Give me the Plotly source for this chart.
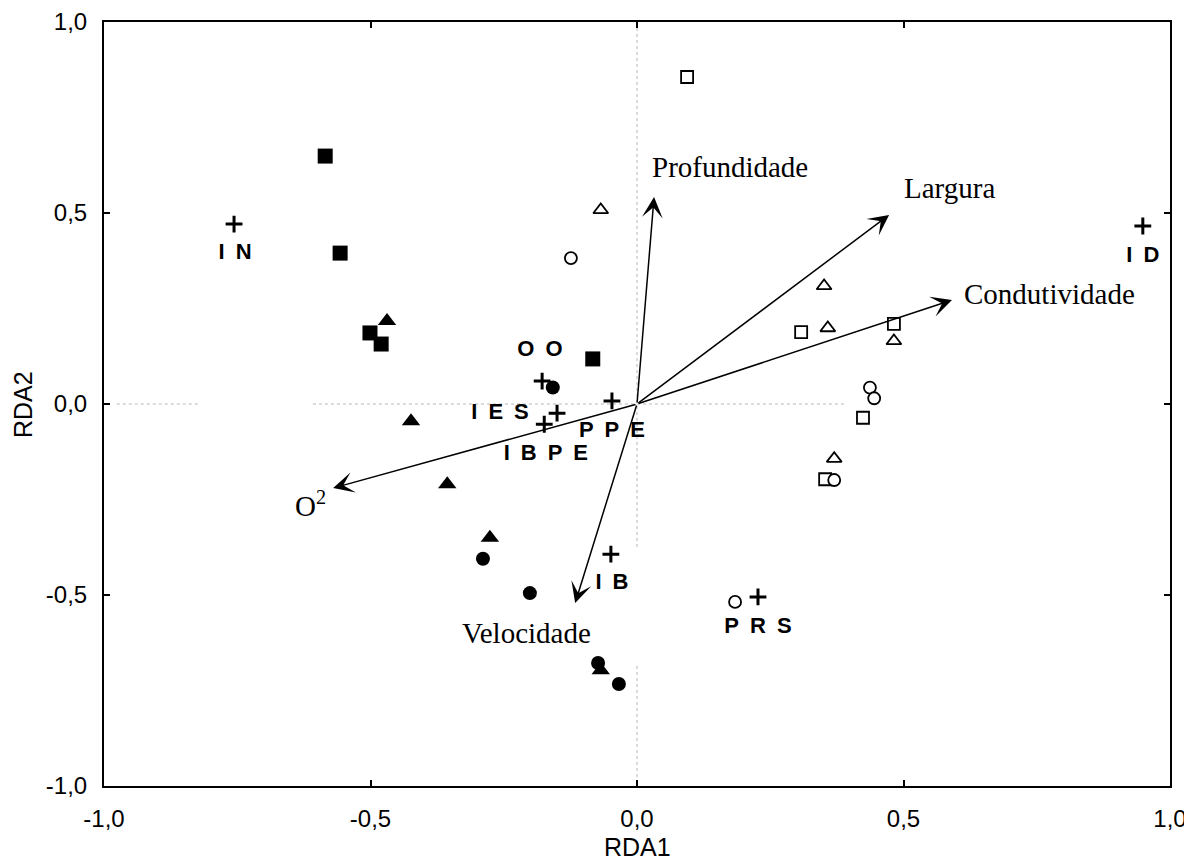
import plotly.graph_objects as go

# ---- Site scores (RDA1, RDA2) by group ----
fsq_x = [-0.585, -0.557, -0.501, -0.480, -0.083]
fsq_y = [0.649, 0.395, 0.186, 0.157, 0.118]
ftri_x = [-0.469, -0.424, -0.356, -0.276, -0.068]
ftri_y = [0.217, -0.045, -0.210, -0.350, -0.697]
fcir_x = [-0.158, -0.289, -0.201, -0.073, -0.034]
fcir_y = [0.043, -0.405, -0.495, -0.678, -0.733]
osq_x = [0.094, 0.308, 0.482, 0.424, 0.353]
osq_y = [0.856, 0.188, 0.210, -0.036, -0.197]
otri_x = [-0.068, 0.351, 0.358, 0.482, 0.370]
otri_y = [0.508, 0.309, 0.199, 0.165, -0.143]
ocir_x = [-0.124, 0.437, 0.445, 0.370, 0.184]
ocir_y = [0.382, 0.043, 0.015, -0.199, -0.518]

# ---- Species scores ----
sp_x = [-0.756, 0.949, -0.178, -0.047, -0.150, -0.174, -0.049, 0.227]
sp_y = [0.471, 0.466, 0.060, 0.008, -0.024, -0.053, -0.393, -0.505]
sp_labels = ["I N", "I D", "O O", "I E S", "P P E", "I B P E", "I B", "P R S"]
sp_label_x = [-0.754, 0.949, -0.182, -0.257, -0.047, -0.171, -0.047, 0.227]
sp_label_y = [0.393, 0.387, 0.139, -0.026, -0.071, -0.131, -0.471, -0.584]

# ---- Environmental variables (biplot arrows) ----
env_names = ["Profundidade", "Largura", "Condutividade", "O<sup>2</sup>", "Velocidade"]
env_x = [0.032, 0.473, 0.591, -0.570, -0.116]
env_y = [0.542, 0.495, 0.272, -0.220, -0.521]
env_label_x = [0.024, 0.497, 0.610, -0.613, -0.208]
env_label_y = [0.620, 0.565, 0.287, -0.262, -0.600]
env_label_anchor = ["left", "left", "left", "center", "center"]

# ---- Dotted reference lines (segments) ----
h_seg_x = [[-0.976, -0.820], [-0.608, 0.394]]
v_seg_y = [[1.0, -0.377], [-0.686, -0.979]]

ticks = [-1.0, -0.5, 0.0, 0.5, 1.0]
tick_text = ["-1,0", "-0,5", "0,0", "0,5", "1,0"]

fig = go.Figure()

for seg in h_seg_x:
    fig.add_trace(go.Scatter(x=seg, y=[0, 0], mode="lines",
                             line=dict(color="#b8b8b8", width=1, dash="dot"),
                             hoverinfo="skip"))
for seg in v_seg_y:
    fig.add_trace(go.Scatter(x=[0, 0], y=seg, mode="lines",
                             line=dict(color="#b8b8b8", width=1, dash="dot"),
                             hoverinfo="skip"))

def add_markers(xs, ys, symbol, size, filled):
    fig.add_trace(go.Scatter(
        x=xs, y=ys, mode="markers",
        marker=dict(symbol=symbol, size=size,
                    color="black" if filled else "white",
                    line=dict(color="black", width=1.8 if not filled else 0))))

add_markers(fsq_x, fsq_y, "square", 15, True)
add_markers(ftri_x, ftri_y, "triangle-up", 16, True)
add_markers(fcir_x, fcir_y, "circle", 14, True)
add_markers(osq_x, osq_y, "square", 12, False)
add_markers(otri_x, otri_y, "triangle-up", 13, False)
add_markers(ocir_x, ocir_y, "circle", 12, False)

fig.add_trace(go.Scatter(
    x=sp_x, y=sp_y, mode="markers",
    marker=dict(symbol="cross-thin", size=12, color="black",
                line=dict(color="black", width=3))))

fig.add_trace(go.Scatter(
    x=sp_label_x, y=sp_label_y, mode="text",
    text=[t.replace(" ", "\u2002") for t in sp_labels],
    textposition="middle center",
    textfont=dict(family="Liberation Sans, Arial, sans-serif", size=22,
                  color="black", weight="bold")))

annotations = []
for i, name in enumerate(env_names):
    annotations.append(dict(
        x=env_x[i], y=env_y[i], ax=0, ay=0, xref="x", yref="y",
        axref="x", ayref="y", text="", showarrow=True,
        arrowhead=3, arrowsize=2.3, arrowwidth=1.5, arrowcolor="black",
        standoff=0, startstandoff=0))
    annotations.append(dict(
        x=env_label_x[i], y=env_label_y[i], xref="x", yref="y",
        text=name, showarrow=False, xanchor=env_label_anchor[i],
        yanchor="middle",
        font=dict(family="Liberation Serif, Times New Roman, serif",
                  size=29, color="black")))

annotations.append(dict(x=0.5, y=-0.080, xref="paper", yref="paper",
                        text="RDA1", showarrow=False, xanchor="center",
                        yanchor="middle",
                        font=dict(family="Liberation Sans, Arial, sans-serif",
                                  size=25, color="black")))
annotations.append(dict(x=-0.076, y=0.5, xref="paper", yref="paper",
                        text="RDA2", showarrow=False, textangle=-90,
                        xanchor="center", yanchor="middle",
                        font=dict(family="Liberation Sans, Arial, sans-serif",
                                  size=25, color="black")))

axis_common = dict(
    tickvals=ticks, ticktext=tick_text, ticks="inside", ticklen=6,
    tickwidth=2, tickcolor="black", showline=True, linecolor="black",
    linewidth=2, mirror="ticks", showgrid=False, zeroline=False,
    tickfont=dict(family="Liberation Sans, Arial, sans-serif", size=24,
                  color="black"),
    ticklabelstandoff=10, automargin=False,
)

# The page body has an 8px default margin; compensate so the plot box
# lands where the reference has it.
fig.update_layout(
    width=1184, height=855, autosize=False,
    margin=dict(l=96, r=22, t=14, b=77),
    paper_bgcolor="white", plot_bgcolor="white",
    showlegend=False,
    xaxis=dict(range=[-1, 1], **axis_common),
    yaxis=dict(range=[-1, 1], **axis_common),
    annotations=annotations,
)

fig.write_html("out.html")
